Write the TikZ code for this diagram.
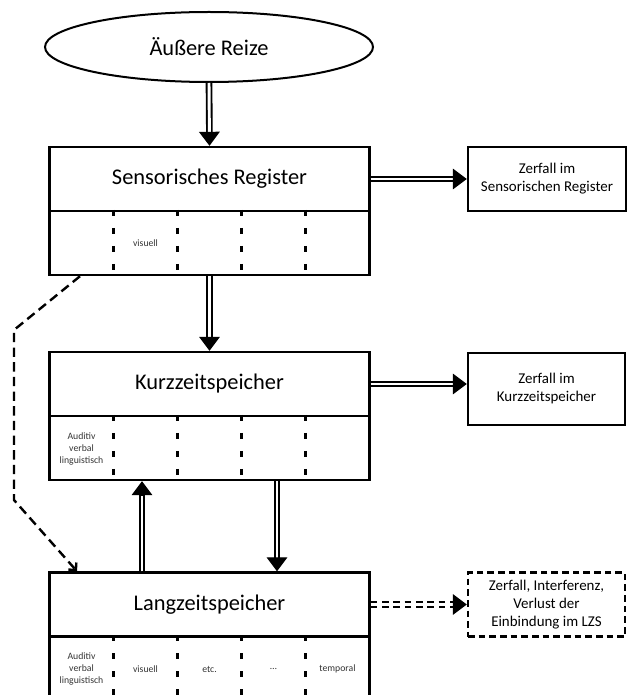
\documentclass[tikz,border=0pt]{standalone}
\usepackage{fontspec}
\setmainfont{Carlito}
\usetikzlibrary{shapes.geometric,arrows.meta,calc}
\newcommand{\dblarr}[3][]{%
  \draw[dblline,#1,shorten >=9pt] (#2) -- (#3);
  \draw[tipline] ($(#3)!10pt!(#2)$) -- (#3);}
\begin{document}
\begin{tikzpicture}[x=0.75pt,y=-0.75pt,
  box/.style={draw,line width=1.8pt,minimum width=240pt,minimum height=48pt,inner sep=0pt},
  big/.style={font=\fontsize{16.8}{20}\selectfont},
  zbox/.style={draw,line width=1.8pt,align=center,font=\fontsize{11.2}{13.5}\selectfont,inner sep=0pt},
  small/.style={align=center,font=\fontsize{7.3}{9}\selectfont,text=black!80},
  divider/.style={line width=2pt,dash pattern=on 4.5pt off 9pt},
  dblline/.style={double,double distance=2.2pt,line width=1.4pt},
  tipline/.style={line width=1pt,-{Triangle[length=10.5pt,width=15.5pt]}},
  ddash/.style={dash pattern=on 5pt off 3.5pt},
  dconn/.style={line width=1.8pt,dash pattern=on 7pt off 4pt,-{Straight Barb[length=4pt,width=8pt]}}
]
\clip (0,0) rectangle (635,695);

% ellipse
\node[ellipse,draw,line width=1.5pt,minimum width=246pt,minimum height=52.5pt,inner sep=0pt,big] (ell) at (209,47) {Äußere Reize};

% Sensorisches Register
\node[box,big] (sr) at (209.5,179) {Sensorisches Register};
\node[box] (srl) at (209.5,243) {};
\foreach \dx in {-96,-32,32,96}
  \draw[divider] ($(srl.north)+(\dx,0)$) -- ($(srl.south)+(\dx,0)$);
\node[small] (srv) at ($(srl.center)+(-64,0)$) {visuell};

% Kurzzeitspeicher
\node[box,big] (kz) at (209.5,384) {Kurzzeitspeicher};
\node[box] (kzl) at (209.5,448) {};
\foreach \dx in {-96,-32,32,96}
  \draw[divider] ($(kzl.north)+(\dx,0)$) -- ($(kzl.south)+(\dx,0)$);
\node[small] (kza) at ($(kzl.center)+(-128,1)$) {Auditiv\\verbal\\linguistisch};

% Langzeitspeicher
\node[box,big] (lz) at (209.5,604.5) {Langzeitspeicher};
\node[box] (lzl) at (209.5,668.5) {};
\foreach \dx in {-96,-32,32,96}
  \draw[divider] ($(lzl.north)+(\dx,0)$) -- ($(lzl.south)+(\dx,0)$);
\node[small] (lza) at ($(lzl.center)+(-128,0.5)$) {Auditiv\\verbal\\linguistisch};
\node[small] (lzb) at ($(lzl.center)+(-64,0.5)$) {visuell};
\node[small] (lzc) at ($(lzl.center)+(0,0.5)$) {etc.};
\node[small] (lzd) at ($(lzl.center)+(64,0.5)$) {…};
\node[small] (lze) at ($(lzl.center)+(128,0.5)$) {temporal};

% Zerfall boxes
\node[zbox,minimum width=118.5pt,minimum height=48pt] (zs) at (547,179) {Zerfall im\\Sensorischen Register};
\node[zbox,minimum width=117.75pt,minimum height=54pt] (zk) at (546.5,389) {Zerfall im\\Kurzzeitspeicher};
\node[zbox,minimum width=117.75pt,minimum height=48pt,dash pattern=on 5pt off 3pt] (zl) at (546.5,604.5) {Zerfall, Interferenz,\\Verlust der\\Einbindung im LZS};

% arrows
\dblarr{ell.south}{sr.north}
\dblarr{sr.east}{zs.west}
\dblarr{srl.south}{kz.north}
\coordinate (zkin) at (zk.west |- kz.east);
\dblarr{kz.east}{zkin}
\path (lz.north) ++(-67.5,0) coordinate (upA);
\path (kzl.south) ++(-67.5,0) coordinate (upB);
\path (kzl.south) ++(67.5,0) coordinate (dnA);
\path (lz.north) ++(67.5,0) coordinate (dnB);
\dblarr{upA}{upB}
\dblarr{dnA}{dnB}
\dblarr[ddash]{lz.east}{zl.west}

% dashed connector
\path (srl.south) ++(-129.5,0) coordinate (dA);
\path (lz.north) ++(-132.5,0) coordinate (dB);
\coordinate (bend1) at (14,330);
\coordinate (bend2) at (14,500);
\draw[dconn] (dA) -- (bend1) -- (bend2) -- (dB);
\end{tikzpicture}
\end{document}
